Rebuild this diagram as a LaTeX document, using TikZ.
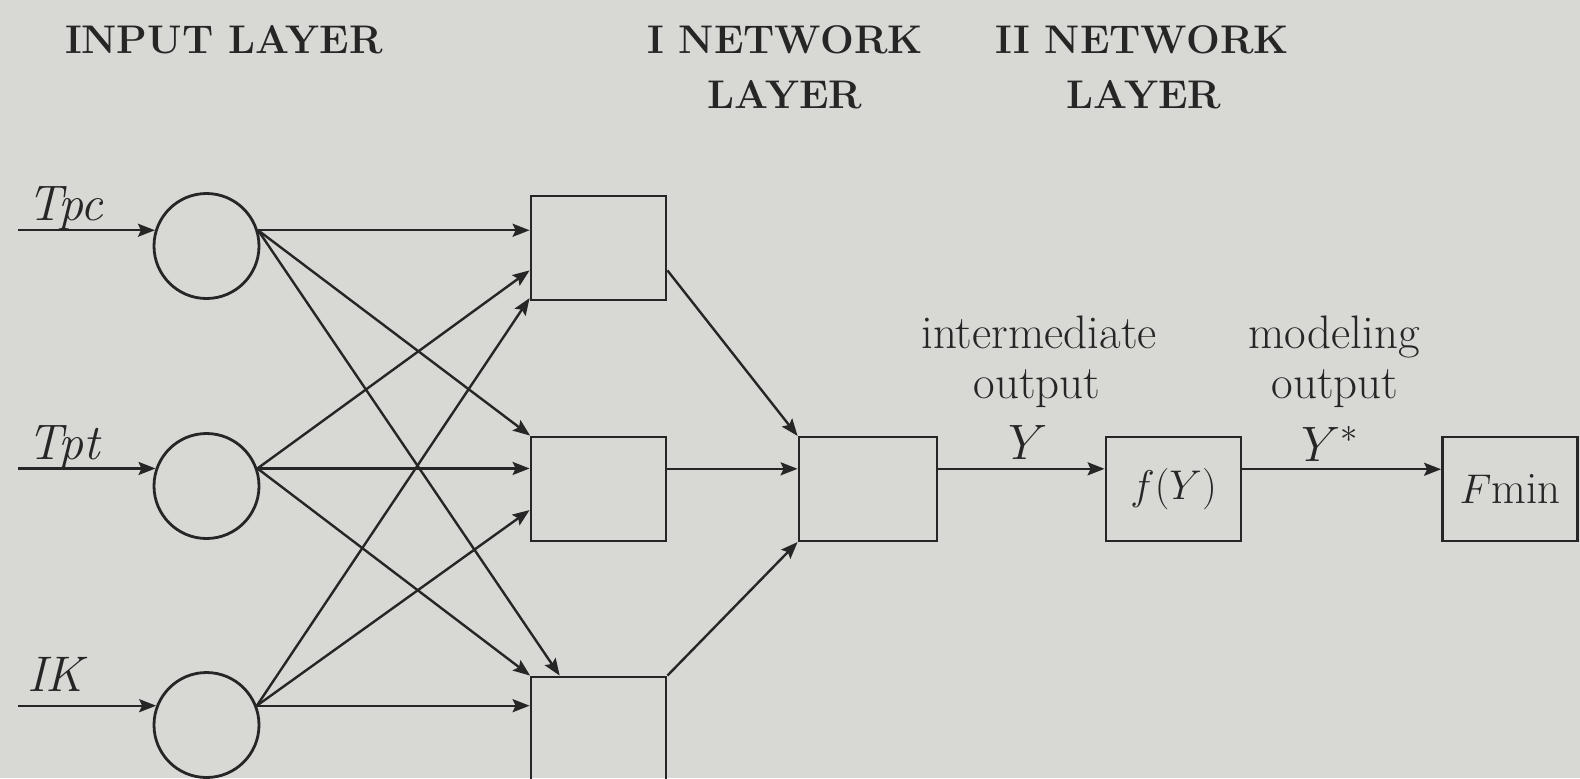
\documentclass[tikz,border=0pt]{standalone}
\usetikzlibrary{arrows.meta}
\definecolor{paper}{RGB}{216,216,213}
\definecolor{ink}{RGB}{38,38,38}
\begin{document}
\begin{tikzpicture}[x=0.5pt,y=-0.5pt,
  every node/.style={text=ink},
  neuron/.style={circle, draw=ink, line width=1.4pt, minimum size=52.5pt, inner sep=0pt},
  unit/.style={rectangle, draw=ink, line width=1.4pt, minimum width=67.5pt,
    minimum height=52pt, inner sep=0pt, font=\fontsize{22.5}{26}\selectfont},
  link/.style={draw=ink, line width=1.2pt, -{Stealth[length=8.5pt,width=6.5pt,inset=1.5pt]}},
  heading/.style={font=\fontsize{20}{27.5}\selectfont\bfseries, anchor=base},
  txt/.style={font=\fontsize{23.5}{27}\selectfont, anchor=base, inner sep=0pt},
  varname/.style={font=\fontsize{25}{28}\selectfont\itshape, anchor=base west}
]
% page
\fill[paper] (0,0) rectangle (1580,778);
\useasboundingbox (0,0) rectangle (1580,778);

% layer headings
\node[heading] (hin) at (224,53) {INPUT LAYER};
\node[heading] (hn1) at (785,53) {I NETWORK};
\node[heading] (hl1) at (785,108) {LAYER};
\node[heading] (hn2) at (1142,53) {II NETWORK};
\node[heading] (hl2) at (1144,108) {LAYER};

% input neurons
\node[neuron] (c1) at (206.5,246) {};
\node[neuron] (c2) at (206.5,486) {};
\node[neuron] (c3) at (206.5,725) {};

% first network layer
\node[unit] (h1) at (598.5,248) {};
\node[unit] (h2) at (598.5,489) {};
\node[unit] (h3) at (598.5,729) {};

% second network layer and outputs
\node[unit, minimum width=69pt] (o) at (868,489) {};
\node[unit] (fy) at (1173.5,489) {$f(Y)$};
\node[unit] (fm) at (1510,489) {$F$min};

% input variables
\coordinate (edge) at (18,0);
\node[varname] (tpc) at (20,220) {Tpc};
\node[varname] (tpt) at (20,459) {Tpt};
\node[varname] (ik) at (20,691) {IK};
\draw[link] (c1.163 -| edge) -- (c1.163);
\draw[link] (c2.161 -| edge) -- (c2.161);
\draw[link] (c3.159 -| edge) -- (c3.159);

% input layer to first network layer
\draw[link] (c1.17) -- (c1.17 -| h1.west);
\draw[link] (c1.17) -- (h2.142);
\draw[link] (c1.17) -- (h3.126);
\draw[link] (c2.19) -- (h1.198);
\draw[link] (c2.19) -- (c2.19 -| h2.west);
\draw[link] (c2.19) -- (h3.142);
\draw[link] (c3.21) -- (h1.216);
\draw[link] (c3.21) -- (h2.197);
\draw[link] (c3.21) -- (c3.21 -| h3.west);

% first layer to second layer
\draw[link] (h1.342) -- (o.143);
\draw[link] (o.164 -| h2.east) -- (o.164);
\draw[link] (h3.north east) -- (o.217);

% outputs
\draw[link] (o.16) -- (o.16 -| fy.west);
\draw[link] (fy.16) -- (fy.16 -| fm.west);

\node[txt] (im1) at (1039,348) {intermediate};
\node[txt] (im2) at (1037,398) {output};
\node[txt] (im3) at (1028,459) {$Y$};
\node[txt] (md1) at (1334,348) {modeling};
\node[txt] (md2) at (1335,398) {output};
\node[txt] (md3) at (1330,461) {$Y^{*}$};
\end{tikzpicture}
\end{document}
